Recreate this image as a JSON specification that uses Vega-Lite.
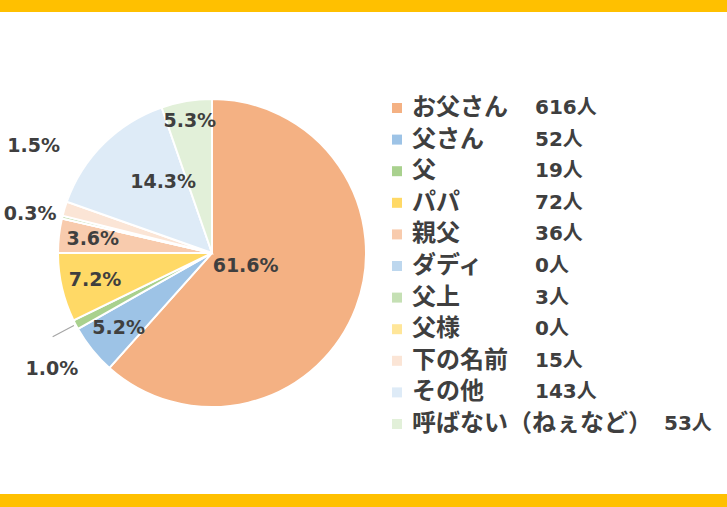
{
  "$schema": "https://vega.github.io/schema/vega-lite/v6.json",
  "background": "#FFC000",
  "padding": {"top": 12, "bottom": 13, "left": 0, "right": 0},
  "spacing": 0,
  "bounds": "flush",
  "config": {"view": {"stroke": null}, "concat": {"spacing": 0}},
  "datasets": {
    "father": [
      {"order": 1, "name": "お父さん", "count": "616人", "share": 0.616},
      {"order": 2, "name": "父さん", "count": "52人", "share": 0.052},
      {"order": 3, "name": "父", "count": "19人", "share": 0.010},
      {"order": 4, "name": "パパ", "count": "72人", "share": 0.072},
      {"order": 5, "name": "親父", "count": "36人", "share": 0.036},
      {"order": 6, "name": "ダディ", "count": "0人", "share": 0},
      {"order": 7, "name": "父上", "count": "3人", "share": 0.003},
      {"order": 8, "name": "父様", "count": "0人", "share": 0},
      {"order": 9, "name": "下の名前", "count": "15人", "share": 0.015},
      {"order": 10, "name": "その他", "count": "143人", "share": 0.143},
      {"order": 11, "name": "呼ばない（ねぇなど）", "count": "53人", "share": 0.053}
    ]
  },
  "hconcat": [
    {
      "width": 386,
      "height": 482,
      "view": {"fill": "white", "stroke": null},
      "data": {"name": "father"},
      "encoding": {
        "theta": {"field": "share", "type": "quantitative", "stack": true},
        "order": {"field": "order", "type": "quantitative"}
      },
      "layer": [
        {
          "mark": {"type": "arc", "outerRadius": 154, "stroke": "white", "strokeWidth": 2, "xOffset": 19},
          "encoding": {
            "color": {
              "field": "name",
              "type": "nominal",
              "scale": {
                "domain": ["お父さん", "父さん", "父", "パパ", "親父", "ダディ", "父上", "父様", "下の名前", "その他", "呼ばない（ねぇなど）"],
                "range": ["#F4B183", "#9DC3E6", "#A9D18E", "#FFD966", "#F8CBAD", "#BDD7EE", "#C5E0B4", "#FFE699", "#FBE5D6", "#DEEBF7", "#E2F0D9"]
              },
              "legend": null
            }
          }
        },
        {
          "mark": {"type": "arc", "innerRadius": 156, "outerRadius": 180, "padAngle": 0.6, "fillOpacity": 0, "stroke": "#A6A6A6", "strokeWidth": 1.2, "xOffset": 19},
          "encoding": {
            "strokeOpacity": {"condition": {"test": "datum.name === '父'", "value": 1}, "value": 0}
          }
        },
        {
          "mark": {"type": "text", "radius": 36, "xOffset": 19, "font": "DejaVu Sans", "fontWeight": "bold", "fontSize": 19, "color": "#3F3F3F"},
          "encoding": {
            "text": {"condition": {"test": "datum.name === 'お父さん'", "field": "share", "type": "quantitative", "format": ".1%"}, "value": ""}
          }
        },
        {
          "mark": {"type": "text", "radius": 120, "xOffset": 19, "font": "DejaVu Sans", "fontWeight": "bold", "fontSize": 19, "color": "#3F3F3F"},
          "encoding": {
            "text": {"condition": {"test": "indexof(['父さん', 'パパ', '親父'], datum.name) >= 0", "field": "share", "type": "quantitative", "format": ".1%"}, "value": ""}
          }
        },
        {
          "mark": {"type": "text", "radius": 134, "xOffset": 19, "font": "DejaVu Sans", "fontWeight": "bold", "fontSize": 19, "color": "#3F3F3F"},
          "encoding": {
            "text": {"condition": {"test": "datum.name === '呼ばない（ねぇなど）'", "field": "share", "type": "quantitative", "format": ".1%"}, "value": ""}
          }
        },
        {
          "mark": {"type": "text", "radius": 86, "thetaOffset": 0.178, "xOffset": 19, "font": "DejaVu Sans", "fontWeight": "bold", "fontSize": 19, "color": "#3F3F3F"},
          "encoding": {
            "text": {"condition": {"test": "datum.name === 'その他'", "field": "share", "type": "quantitative", "format": ".1%"}, "value": ""}
          }
        },
        {
          "mark": {"type": "text", "radius": 198, "thetaOffset": -0.145, "xOffset": 19, "font": "DejaVu Sans", "fontWeight": "bold", "fontSize": 19, "color": "#3F3F3F"},
          "encoding": {
            "text": {"condition": {"test": "datum.name === '父'", "field": "share", "type": "quantitative", "format": ".1%"}, "value": ""}
          }
        },
        {
          "mark": {"type": "text", "radius": 186, "thetaOffset": -0.026, "xOffset": 19, "font": "DejaVu Sans", "fontWeight": "bold", "fontSize": 19, "color": "#3F3F3F"},
          "encoding": {
            "text": {"condition": {"test": "datum.name === '父上'", "field": "share", "type": "quantitative", "format": ".1%"}, "value": ""}
          }
        },
        {
          "mark": {"type": "text", "radius": 208, "thetaOffset": 0.248, "xOffset": 19, "font": "DejaVu Sans", "fontWeight": "bold", "fontSize": 19, "color": "#3F3F3F"},
          "encoding": {
            "text": {"condition": {"test": "datum.name === '下の名前'", "field": "share", "type": "quantitative", "format": ".1%"}, "value": ""}
          }
        }
      ]
    },
    {
      "width": 341,
      "height": 482,
      "view": {"fill": "white", "stroke": null},
      "data": {"name": "father"},
      "encoding": {
        "y": {
          "field": "name",
          "type": "nominal",
          "sort": {"field": "order", "op": "min"},
          "scale": {"type": "point", "padding": 0, "range": [96, 412]},
          "axis": null
        }
      },
      "layer": [
        {
          "mark": {"type": "point", "shape": "square", "filled": true, "size": 100, "opacity": 1},
          "encoding": {
            "x": {"value": 11},
            "color": {"field": "name", "type": "nominal", "legend": null}
          }
        },
        {
          "mark": {"type": "text", "align": "left", "font": "Noto Sans CJK JP", "fontWeight": "bold", "fontSize": 24, "color": "#3F3F3F"},
          "encoding": {
            "x": {"value": 26},
            "text": {"field": "name"}
          }
        },
        {
          "mark": {"type": "text", "align": "left", "font": "DejaVu Sans, Noto Sans CJK JP", "fontWeight": "bold", "fontSize": 20, "color": "#3F3F3F"},
          "encoding": {
            "x": {"value": 149},
            "text": {"condition": {"test": "datum.order < 11", "field": "count"}, "value": ""}
          }
        },
        {
          "mark": {"type": "text", "align": "left", "font": "DejaVu Sans, Noto Sans CJK JP", "fontWeight": "bold", "fontSize": 20, "color": "#3F3F3F"},
          "encoding": {
            "x": {"value": 278},
            "text": {"condition": {"test": "datum.order === 11", "field": "count"}, "value": ""}
          }
        }
      ]
    }
  ]
}
